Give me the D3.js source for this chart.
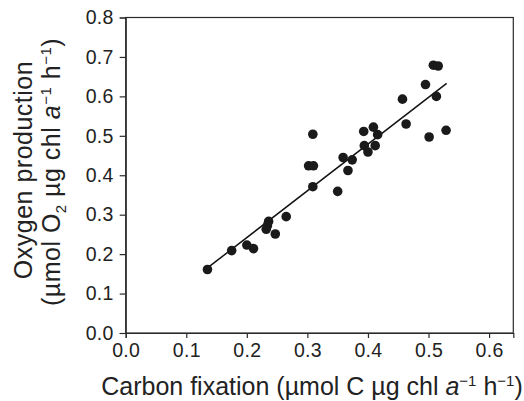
<!DOCTYPE html>
<html>
<head>
<meta charset="utf-8">
<script src="https://cdn.jsdelivr.net/npm/d3@7"></script>
<style>
  html, body { margin: 0; padding: 0; background: #fff; }
  svg { display: block; font-family: "Liberation Sans", Arial, Helvetica, sans-serif; }
</style>
</head>
<body>
<svg id="chart" width="524" height="401"></svg>
<script>
// Data
const carbonFixation = [0.135, 0.175, 0.200, 0.211, 0.236, 0.234, 0.232, 0.247, 0.265,
  0.302, 0.310, 0.309, 0.309, 0.350, 0.359, 0.374, 0.367, 0.393, 0.409, 0.416,
  0.394, 0.400, 0.412, 0.457, 0.463, 0.495, 0.508, 0.516, 0.513, 0.501, 0.529];
const oxygenProduction = [0.161, 0.209, 0.223, 0.214, 0.283, 0.272, 0.263, 0.251, 0.295,
  0.424, 0.424, 0.504, 0.371, 0.359, 0.445, 0.439, 0.412, 0.511, 0.522, 0.503,
  0.475, 0.459, 0.475, 0.593, 0.530, 0.630, 0.679, 0.677, 0.600, 0.497, 0.514];
const fitX = [0.135, 0.530];
const fitY = [0.165, 0.633];
const xTicks = [0.0, 0.1, 0.2, 0.3, 0.4, 0.5, 0.6];
const yTicks = [0.0, 0.1, 0.2, 0.3, 0.4, 0.5, 0.6, 0.7, 0.8];

(function () {
const svg = d3.select("#chart");
const pLeft = 125.7, pRight = 513.3, pTop = 17.5, pBottom = 333;
const x = d3.scaleLinear().domain([0, 0.64]).range([pLeft, pRight]);
const y = d3.scaleLinear().domain([0, 0.8]).range([pBottom, pTop]);
const axisColor = "#2a2a2a";
const titleSize = "25px";

// frame
svg.append("rect").attr("x", pLeft).attr("y", pTop)
  .attr("width", pRight - pLeft).attr("height", pBottom - pTop)
  .attr("fill", "none").attr("stroke", axisColor).attr("stroke-width", 1.2);

const xAxis = svg.append("g").attr("transform", `translate(0,${pBottom})`)
  .call(d3.axisBottom(x).tickValues(xTicks).tickFormat(d3.format(".1f")).tickSize(5).tickPadding(5));
const yAxis = svg.append("g").attr("transform", `translate(${pLeft},0)`)
  .call(d3.axisLeft(y).tickValues(yTicks).tickFormat(d3.format(".1f")).tickSize(6).tickPadding(6));
[xAxis, yAxis].forEach(g => {
  g.select(".domain").attr("stroke", axisColor).attr("stroke-width", 1.2);
  g.selectAll(".tick line").attr("stroke", axisColor).attr("stroke-width", 1.2);
  g.selectAll(".tick text").attr("fill", "#222").style("font-size", "19.5px")
    .style("letter-spacing", "0.3px")
    .style("font-family", "'Liberation Sans', Arial, sans-serif");
});

// regression line
svg.append("line")
  .attr("x1", x(fitX[0])).attr("y1", y(fitY[0]))
  .attr("x2", x(fitX[1])).attr("y2", y(fitY[1]))
  .attr("stroke", "#111").attr("stroke-width", 1.5);

// points
svg.append("g").selectAll("circle")
  .data(carbonFixation.map((c, i) => [c, oxygenProduction[i]]))
  .join("circle")
  .attr("cx", d => x(d[0])).attr("cy", d => y(d[1]))
  .attr("r", 4.8).attr("fill", "#1a1a1a");

// x title
const xt = svg.append("text").attr("x", 312).attr("y", 395)
  .attr("text-anchor", "middle").attr("fill", "#222").style("font-size", titleSize);
xt.append("tspan").text("Carbon fixation (µmol C µg chl ");
xt.append("tspan").attr("font-style", "italic").text("a");
xt.append("tspan").attr("font-size", "15px").attr("dy", -9).text("−1");
xt.append("tspan").attr("dy", 9).text(" h");
xt.append("tspan").attr("font-size", "15px").attr("dy", -9).text("−1");
xt.append("tspan").attr("dy", 9).text(")");

// y title
svg.append("text").attr("transform", "translate(32,170) rotate(-90)")
  .attr("text-anchor", "middle").attr("fill", "#222").style("font-size", titleSize)
  .style("letter-spacing", "0.5px")
  .text("Oxygen production");
const yt2 = svg.append("text").attr("transform", "translate(60,172) rotate(-90)")
  .attr("text-anchor", "middle").attr("fill", "#222").style("font-size", titleSize)
  .style("letter-spacing", "0.5px");
yt2.append("tspan").text("(µmol O");
yt2.append("tspan").attr("font-size", "15px").attr("dy", 6).text("2");
yt2.append("tspan").attr("dy", -6).text(" µg chl ");
yt2.append("tspan").attr("font-style", "italic").text("a");
yt2.append("tspan").attr("font-size", "15px").attr("dy", -9).text("−1");
yt2.append("tspan").attr("dy", 9).text(" h");
yt2.append("tspan").attr("font-size", "15px").attr("dy", -9).text("−1");
yt2.append("tspan").attr("dy", 9).text(")");
})();
</script>
</body>
</html>
